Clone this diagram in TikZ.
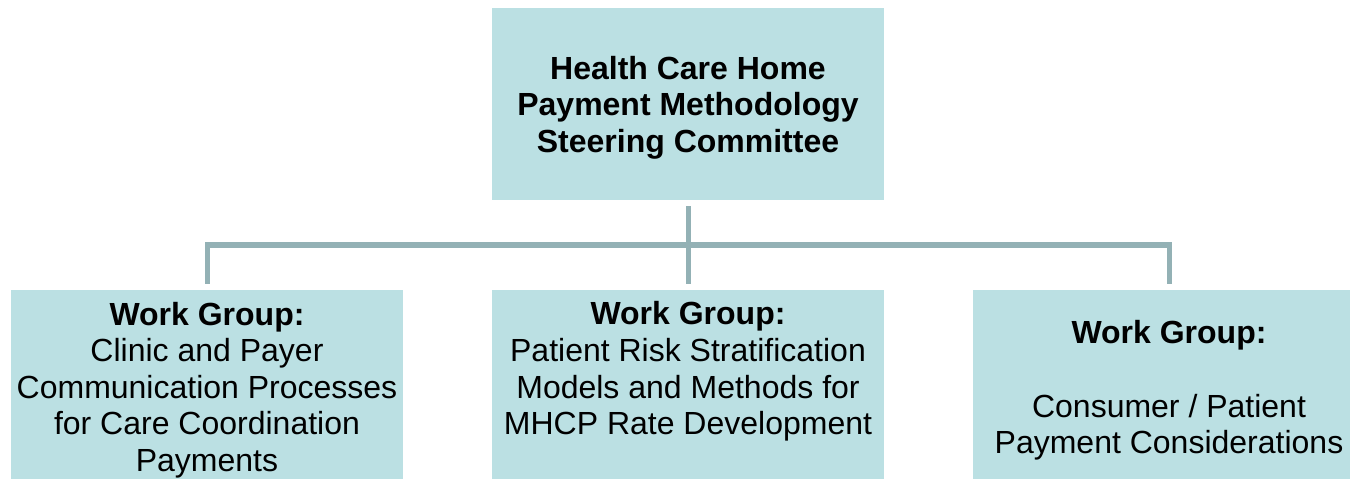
\documentclass[tikz,border=0pt]{standalone}
\usepackage{fontspec}
\setmainfont{Liberation Sans}
\definecolor{boxfill}{HTML}{BBE0E3}
\definecolor{linecol}{HTML}{93B1B5}
\begin{document}
\begin{tikzpicture}[x=1bp,y=-1bp,
  box/.style={fill=boxfill, draw=none, minimum width=392bp, minimum height=192bp, inner sep=0pt, outer sep=0pt},
  label/.style={align=center, inner sep=0pt, font=\fontsize{32bp}{36.6bp}\selectfont},
  conn/.style={draw=linecol, line width=5bp, line cap=butt, line join=miter}]
\useasboundingbox (0,0) rectangle (1350,479);
\clip (0,0) rectangle (1350,479);
\node[box] (top) at (688,104) {};
\node[box] (L) at (207,386) {};
\node[box] (M) at (688,386) {};
\node[box] (R) at (1169,386) {};
\node[label] (ttop) at (688,107.5) {\bfseries Health Care Home\\\bfseries Payment Methodology\\\bfseries Steering Committee};
\node[label] (tL) at (207,390) {\bfseries Work Group:\\Clinic and Payer\\Communication Processes\\for Care Coordination\\Payments};
\node[label] (tM) at (688,371.5) {\bfseries Work Group:\\Patient Risk Stratification\\Models and Methods for\\MHCP Rate Development};
\node[label] (tR) at (1169,390.5) {\bfseries Work Group:\\ ~ \\Consumer / Patient\\Payment Considerations};
\coordinate (junc) at (688,245);
\draw[conn] ([yshift=-6bp]top.south) -- ([yshift=6bp]M.north);
\draw[conn] ([yshift=6bp]L.north) |- (junc) -| ([yshift=6bp]R.north);
\end{tikzpicture}
\end{document}
